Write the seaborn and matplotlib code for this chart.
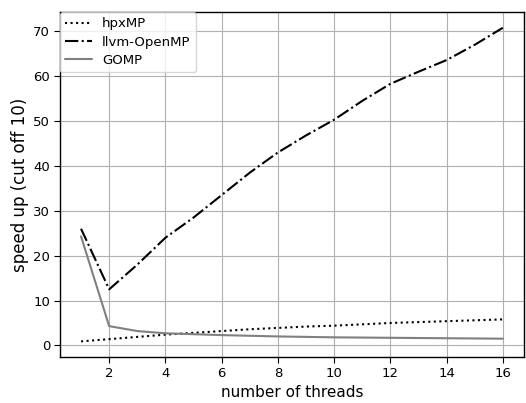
import matplotlib
matplotlib.use("Agg")
import matplotlib.pyplot as plt
import seaborn as sns
import pandas as pd

threads = list(range(1, 17))
hpxmp = [0.9, 1.4, 1.9, 2.4, 2.8, 3.2, 3.6, 3.9, 4.2, 4.4, 4.7, 5.0, 5.2, 5.4, 5.6, 5.8]
llvm = [26.0, 12.5, 18.0, 24.0, 28.5, 33.5, 38.5, 43.0, 46.8, 50.3, 54.5, 58.3, 61.0, 63.6, 67.0, 70.8]
gomp = [24.3, 4.3, 3.2, 2.7, 2.5, 2.3, 2.15, 2.0, 1.9, 1.8, 1.75, 1.7, 1.65, 1.6, 1.55, 1.5]

sns.set_style("whitegrid", {"axes.edgecolor": "black", "grid.color": "#b0b0b0",
                            "xtick.bottom": True, "ytick.left": True,
                            "text.color": "black", "axes.labelcolor": "black",
                            "xtick.color": "black", "ytick.color": "black"})
plt.rcParams["font.family"] = ["DejaVu Sans"]

fig, ax = plt.subplots(figsize=(5.26, 4.03), dpi=100)
df = pd.DataFrame({"threads": threads, "hpxMP": hpxmp, "llvm-OpenMP": llvm, "GOMP": gomp})

sns.lineplot(data=df, x="threads", y="hpxMP", ax=ax, color="black", linestyle=":", linewidth=1.5, label="hpxMP")
sns.lineplot(data=df, x="threads", y="llvm-OpenMP", ax=ax, color="black", linestyle="-.", linewidth=1.5, label="llvm-OpenMP")
sns.lineplot(data=df, x="threads", y="GOMP", ax=ax, color="gray", linestyle="-", linewidth=1.5, label="GOMP")

ax.set_xticks([2, 4, 6, 8, 10, 12, 14, 16])
ax.set_yticks([0, 10, 20, 30, 40, 50, 60, 70])
ax.tick_params(axis="both", labelsize=9.5, length=4, pad=3, color="black")
ax.set_xlabel("number of threads", fontsize=11, labelpad=4)
ax.set_ylabel("speed up (cut off 10)", fontsize=12, labelpad=3)
for s in ax.spines.values():
    s.set_linewidth(1.0)
ax.legend(loc="upper left", fontsize=9.5, borderaxespad=0.0, frameon=True, fancybox=True,
          labelspacing=0.4)
fig.subplots_adjust(left=0.114, right=0.996, top=0.970, bottom=0.114)
fig.savefig("out.png", dpi=100)
